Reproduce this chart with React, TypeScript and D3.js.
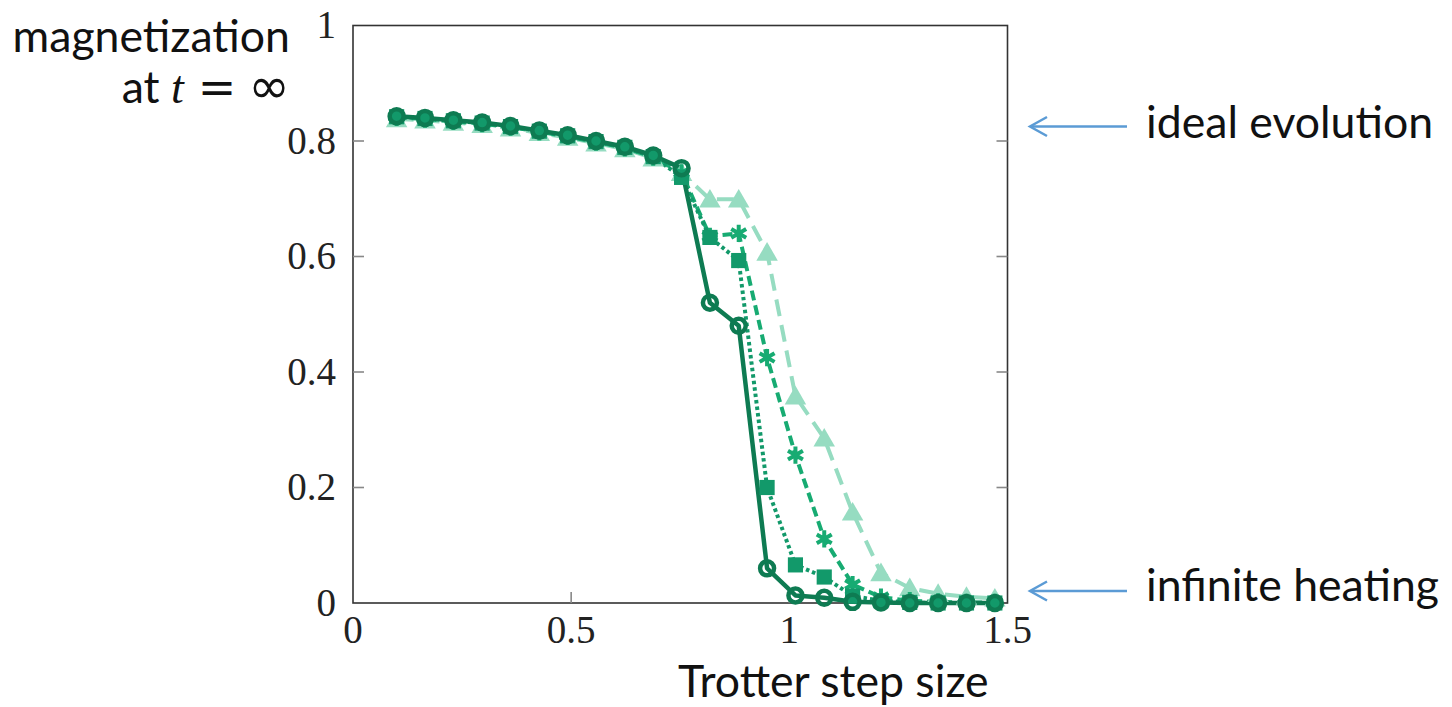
import React from "react";
import * as d3 from "d3";

// Trotter step sizes (x) shared by all four curves
const steps = [
  0.1, 0.165, 0.23, 0.296, 0.361, 0.427, 0.492, 0.557, 0.623, 0.688, 0.753,
  0.818, 0.884, 0.949, 1.014, 1.08, 1.145, 1.21, 1.276, 1.341, 1.406, 1.471,
];

const circleVals = [
  0.843, 0.84, 0.836, 0.832, 0.826, 0.818, 0.81, 0.8, 0.79, 0.775, 0.753,
  0.52, 0.48, 0.06, 0.013, 0.009, 0.002, 0.001, 0, 0, 0, 0,
];
const squareVals = [
  0.842, 0.839, 0.835, 0.831, 0.825, 0.817, 0.809, 0.799, 0.789, 0.773, 0.737,
  0.633, 0.593, 0.2, 0.066, 0.045, 0.012, 0.004, 0.001, 0, 0, 0,
];
const crossVals = [
  0.841, 0.838, 0.834, 0.83, 0.824, 0.816, 0.808, 0.798, 0.788, 0.772, 0.745,
  0.635, 0.64, 0.425, 0.256, 0.111, 0.032, 0.01, 0.004, 0.002, 0.001, 0.001,
];
const triangleVals = [
  0.838, 0.836, 0.832, 0.828, 0.822, 0.814, 0.806, 0.796, 0.786, 0.77, 0.745,
  0.699, 0.699, 0.607, 0.358, 0.285, 0.157, 0.052, 0.026, 0.016, 0.011, 0.008,
];

const yTicks = [0, 0.2, 0.4, 0.6, 0.8, 1];
const yTickLabels = ["0", "0.2", "0.4", "0.6", "0.8", "1"];
const xTicks = [0, 0.5, 1, 1.5];
const xTickLabels = ["0", "0.5", "1", "1.5"];

const series = [
  { name: "triangle", values: triangleVals, color: "#96dcc1", dash: "17 9", mark: "triangle" },
  { name: "cross", values: crossVals, color: "#17ab72", dash: "10 5", mark: "cross" },
  { name: "square", values: squareVals, color: "#12996a", dash: "3.5 3", mark: "square" },
  { name: "circle", values: circleVals, color: "#0e7b52", dash: null, mark: "circle" },
];

const W = 1452,
  H = 707;
const plot = { left: 353, right: 1007.5, top: 25.5, bottom: 603 };

const sans = "Lato, 'Open Sans', sans-serif";
const serif = "'Liberation Serif', 'DejaVu Serif', serif";
const textSize = 44.6;
const tickSize = 39;

export default function App() {
  const x = d3.scaleLinear().domain([0, 1.5]).range([plot.left, plot.right]);
  const y = d3.scaleLinear().domain([0, 1]).range([plot.bottom, plot.top]);

  const line = d3
    .line<number>()
    .x((d, i) => x(steps[i]))
    .y((d) => y(d));

  const tri = d3.symbol(d3.symbolTriangle, 200)()!;
  const sq = d3.symbol(d3.symbolSquare, 230)()!;
  const ast = d3.symbol(d3.symbolAsterisk, 210)()!;

  const marker = (kind: string, color: string, cx: number, cy: number, k: number) => {
    if (kind === "circle")
      return <circle key={k} cx={cx} cy={cy} r={7} fill="none" stroke={color} strokeWidth={4.5} />;
    if (kind === "square")
      return <path key={k} d={sq} transform={`translate(${cx},${cy})`} fill={color} />;
    if (kind === "triangle")
      return <path key={k} d={tri} transform={`translate(${cx},${cy + 2})`} fill={color} />;
    return (
      <path key={k} d={ast} transform={`translate(${cx},${cy})`} fill="none" stroke={color} strokeWidth={4} />
    );
  };

  return (
    <svg
      width={W}
      height={H}
      style={{ position: "absolute", left: 0, top: 0, background: "white" }}
    >
      {/* frame */}
      <rect
        x={plot.left}
        y={plot.top}
        width={plot.right - plot.left}
        height={plot.bottom - plot.top}
        fill="none"
        stroke="#333"
        strokeWidth={1.6}
      />

      {/* y ticks, both sides pointing inward */}
      {yTicks.map((t, i) => (
        <g key={"yt" + i}>
          {i > 0 && i < yTicks.length - 1 && (
            <>
              <line x1={plot.left} x2={plot.left + 11} y1={y(t)} y2={y(t)} stroke="#888" strokeWidth={1.6} />
              <line x1={plot.right - 11} x2={plot.right} y1={y(t)} y2={y(t)} stroke="#888" strokeWidth={1.6} />
            </>
          )}
          <text
            x={336}
            y={y(t)}
            dy="0.33em"
            textAnchor="end"
            fontFamily={serif}
            fontSize={tickSize}
            fill="#222"
          >
            {yTickLabels[i]}
          </text>
        </g>
      ))}

      {/* x ticks */}
      {xTicks.map((t, i) => (
        <g key={"xt" + i}>
          {i > 0 && i < xTicks.length - 1 && (
            <line x1={x(t)} x2={x(t)} y1={plot.bottom} y2={plot.bottom - 11} stroke="#888" strokeWidth={1.6} />
          )}
          <text
            x={x(t)}
            y={643}
            textAnchor="middle"
            fontFamily={serif}
            fontSize={tickSize}
            fill="#222"
          >
            {xTickLabels[i]}
          </text>
        </g>
      ))}

      {/* curves */}
      {series.map((s) => (
        <path
          key={s.name + "-line"}
          d={line(s.values)!}
          fill="none"
          stroke={s.color}
          strokeWidth={s.mark === "circle" ? 4.5 : 4}
          strokeDasharray={s.dash ?? undefined}
          strokeLinejoin="round"
        />
      ))}
      {series.map((s) => (
        <g key={s.name + "-marks"}>
          {s.values.map((v, i) => marker(s.mark, s.color, x(steps[i]), y(v), i))}
        </g>
      ))}

      {/* axis titles */}
      <text x={290} y={52} textAnchor="end" fontFamily={sans} fontSize={textSize} fill="#111">
        magnetization
      </text>
      <text x={290} y={103} textAnchor="end" fontFamily={sans} fontSize={textSize} fill="#111">
        {"at "}
        <tspan fontFamily={serif} fontStyle="italic" fontSize={46}>t</tspan>
        <tspan fontFamily="'DejaVu Sans', sans-serif" fontSize={46} dx={14}>=</tspan>
        <tspan fontFamily="'DejaVu Sans', sans-serif" fontSize={50} dx={12}>∞</tspan>
      </text>
      <text x={678} y={697} fontFamily={sans} fontSize={textSize} fill="#111">
        Trotter step size
      </text>

      {/* annotations */}
      {[
        { label: "ideal evolution", y: 126.5, ty: 138 },
        { label: "infinite heating", y: 591, ty: 601 },
      ].map((a) => (
        <g key={a.label}>
          <line x1={1127} x2={1031} y1={a.y} y2={a.y} stroke="#5b9bd5" strokeWidth={2.5} />
          <path
            d={`M1047,${a.y - 9.5} L1030,${a.y} L1047,${a.y + 9.5}`}
            fill="none"
            stroke="#5b9bd5"
            strokeWidth={2.5}
          />
          <text x={1146} y={a.ty} fontFamily={sans} fontSize={textSize} fill="#111">
            {a.label}
          </text>
        </g>
      ))}
    </svg>
  );
}
